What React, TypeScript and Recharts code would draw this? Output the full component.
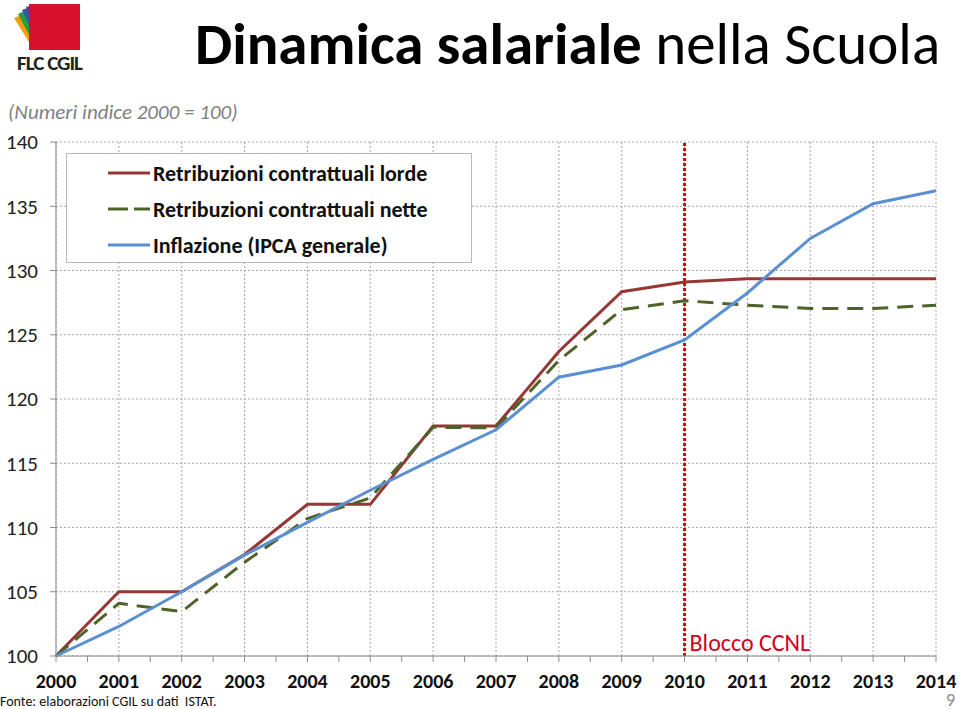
import React from "react";
import {
  LineChart,
  Line,
  XAxis,
  YAxis,
  CartesianGrid,
  ReferenceLine,
  Legend,
} from "recharts";

const years = [2000, 2001, 2002, 2003, 2004, 2005, 2006, 2007, 2008, 2009, 2010, 2011, 2012, 2013, 2014];
const lorde = [100, 105, 105, 107.9, 111.8, 111.8, 117.9, 117.9, 123.7, 128.35, 129.1, 129.35, 129.35, 129.35, 129.35];
const nette = [100, 104.1, 103.45, 107.3, 110.7, 112.3, 117.8, 117.75, 123.0, 126.95, 127.65, 127.3, 127.05, 127.05, 127.3];
const inflazione = [100, 102.3, 105.0, 107.85, 110.4, 112.9, 115.3, 117.6, 121.7, 122.65, 124.6, 128.25, 132.5, 135.2, 136.2];
const halfTicks = years.flatMap((y) => (y < 2014 ? [y, y + 0.5] : [y]));
const yTicks = [100, 105, 110, 115, 120, 125, 130, 135, 140];

const series = [
  { key: "lorde", name: "Retribuzioni contrattuali lorde", color: "#953735", dash: undefined },
  { key: "nette", name: "Retribuzioni contrattuali nette", color: "#4F6228", dash: "16 9" },
  { key: "inflazione", name: "Inflazione (IPCA generale)", color: "#5B8FD3", dash: undefined },
];

const data = years.map((year, i) => ({
  year,
  lorde: lorde[i],
  nette: nette[i],
  inflazione: inflazione[i],
}));

const FONT = "Carlito, Calibri, Lato, 'Open Sans', sans-serif";

function LegendBox() {
  return (
    <div
      style={{
        position: "absolute",
        left: 66,
        top: 153,
        width: 406,
        height: 110,
        border: "1px solid #b8b8b8",
        background: "#fff",
        boxSizing: "border-box",
        fontFamily: FONT,
      }}
    >
      {series.map((s, i) => (
        <div
          key={s.key}
          style={{
            position: "absolute",
            left: 41,
            top: 5 + i * 36,
            height: 28,
            display: "flex",
            alignItems: "center",
          }}
        >
          <svg width={42} height={6} style={{ marginRight: 3 }}>
            <line
              x1={0}
              y1={3}
              x2={42}
              y2={3}
              stroke={s.color}
              strokeWidth={3}
              strokeDasharray={s.dash ? "20 6 12 0" : undefined}
            />
          </svg>
          <span style={{ fontWeight: 700, fontSize: 22, color: "#111", whiteSpace: "nowrap" }}>{s.name}</span>
        </div>
      ))}
    </div>
  );
}

function Logo() {
  return (
    <div style={{ position: "absolute", left: 12, top: 2, width: 80, height: 70 }}>
      <svg width={80} height={52}>
        <path d="M2 16 L12 12 L28 46 L22 48 Z" fill="#F39C12" />
        <path d="M6 12 L15 8 L28 40 L22 42 Z" fill="#2E9B3E" />
        <path d="M10 8 L18 5 L28 34 L23 36 Z" fill="#2B5CA8" />
        <path d="M14 5 L21 3 L28 28 L24 30 Z" fill="#7B2D8E" />
        <rect x={17} y={2} width={51} height={46} fill="#D7102E" />
      </svg>
      <div
        style={{
          position: "absolute",
          left: 5,
          top: 48,
          fontFamily: FONT,
          fontWeight: 800,
          fontSize: 21,
          letterSpacing: -1,
          color: "#222",
          whiteSpace: "nowrap",
        }}
      >
        FLC CGIL
      </div>
    </div>
  );
}

export default function App() {
  return (
    <div
      style={{
        position: "absolute",
        left: 0,
        top: 0,
        width: 960,
        height: 709,
        background: "#fff",
        overflow: "hidden",
        fontFamily: FONT,
      }}
    >
      <Logo />
      <div
        style={{
          position: "absolute",
          left: 195,
          top: 9,
          fontSize: 59,
          lineHeight: "70px",
          color: "#000",
          whiteSpace: "nowrap",
        }}
      >
        <span style={{ fontWeight: 700 }}>Dinamica salariale</span>
        <span> nella Scuola</span>
      </div>
      <div
        style={{
          position: "absolute",
          left: 8,
          top: 99,
          fontSize: 21,
          fontStyle: "italic",
          color: "#7f7f7f",
          whiteSpace: "nowrap",
        }}
      >
        (Numeri indice 2000 = 100)
      </div>

      <div style={{ position: "absolute", left: 0, top: 0 }}>
        <LineChart
          width={960}
          height={709}
          data={data}
          margin={{ top: 142, right: 24, bottom: 0, left: 0 }}
        >
          <CartesianGrid
            stroke="#a6a6a6"
            strokeDasharray="2 2"
            verticalValues={years}
            horizontalValues={yTicks}
          />
          <XAxis
            dataKey="year"
            type="number"
            domain={[2000, 2014]}
            ticks={halfTicks}
            interval={0}
            height={53}
            tickSize={6}
            tickMargin={12}
            tickFormatter={(v: number) => (Number.isInteger(v) ? String(v) : "")}
            stroke="#8c8c8c"
            tick={{ fill: "#111", fontSize: 20, fontWeight: 700, fontFamily: FONT }}
          />
          <YAxis
            type="number"
            domain={[100, 140]}
            ticks={yTicks}
            interval={0}
            width={56}
            tickSize={6}
            tickMargin={12}
            stroke="#8c8c8c"
            tick={{ fill: "#222", fontSize: 21, fontFamily: FONT }}
          />
          <ReferenceLine
            x={2010}
            stroke="#E00010"
            strokeWidth={3}
            strokeDasharray="3 2"
            label={{
              value: "Blocco CCNL",
              position: "insideBottomLeft",
              fill: "#D4001A",
              fontSize: 24,
              fontFamily: FONT,
              offset: 5,
            }}
          />
          {series.map((s) => (
            <Line
              key={s.key}
              type="linear"
              dataKey={s.key}
              name={s.name}
              stroke={s.color}
              strokeWidth={3}
              strokeDasharray={s.dash}
              dot={false}
              activeDot={false}
              isAnimationActive={false}
            />
          ))}
          <Legend content={() => null} />
        </LineChart>
      </div>
      <LegendBox />

      <div
        style={{
          position: "absolute",
          left: 0,
          top: 694,
          fontSize: 14,
          color: "#111",
          whiteSpace: "nowrap",
          lineHeight: "16px",
        }}
      >
        Fonte: elaborazioni CGIL su dati&nbsp; ISTAT.
      </div>
      <div
        style={{
          position: "absolute",
          left: 946,
          top: 692,
          fontSize: 18,
          color: "#8c8c8c",
          lineHeight: "17px",
        }}
      >
        9
      </div>
    </div>
  );
}
